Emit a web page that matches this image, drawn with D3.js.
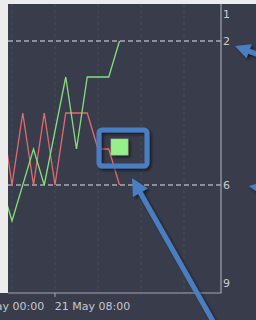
<!DOCTYPE html>
<html>
<head>
<meta charset="utf-8">
<script src="https://cdn.jsdelivr.net/npm/d3@7"></script>
<style>
  body { margin: 0; background: #ececec; }
  svg { display: block; }
  text { font-family: "DejaVu Sans", sans-serif; }
</style>
</head>
<body>
<svg id="chart"></svg>
<script>
// hours after 21 May 00:00 and the rank at that hour
const redHours = [-1, 0, 1, 2, 3, 4, 5, 6, 7, 8, 9, 10];
const redRanks = [4, 6, 4, 6, 4, 6, 4, 4, 4, 5, 5, 6];
const greenHours = [-1, 0, 2, 3, 5, 6, 7, 9, 10];
const greenRanks = [6, 7, 5, 6, 3, 5, 3, 3, 2];

const rankTicks = [1, 2, 6, 9];
const dashedRanks = [2, 6];
const gridHours = [0, 4, 8, 12, 16];
const labelHours = [0, 8];
const tickHours = [4];

const width = 256, height = 320;
const plot = {left: 8, top: 4, right: 221, bottom: 293};

const base = new Date(2021, 4, 21, 0, 0);
const at = h => new Date(base.getTime() + h * 3600e3);
const fmt = d3.timeFormat("%d %b %H:%M");

const x = d3.scaleTime().domain([at(0), at(19)]).range([12, 12 + 19 * 10.75]);
const y = d3.scaleLinear().domain([1, 9]).range([5, 293]);

const svg = d3.select("#chart").attr("width", width).attr("height", height)
    .attr("viewBox", [0, 0, width, height]);

const defs = svg.append("defs");
defs.append("clipPath").attr("id", "plot-clip")
    .append("rect")
    .attr("x", plot.left).attr("y", plot.top)
    .attr("width", plot.right - plot.left).attr("height", plot.bottom - plot.top);
const shadow = defs.append("filter").attr("id", "shadow")
    .attr("x", "-30%").attr("y", "-30%").attr("width", "160%").attr("height", "160%");
shadow.append("feDropShadow").attr("dx", 2).attr("dy", 2)
    .attr("stdDeviation", 1.5).attr("flood-color", "#000").attr("flood-opacity", 0.55);

// dark panel (the light page shows only at the top and left of the plot)
svg.append("rect")
    .attr("x", 0).attr("y", 0).attr("width", width).attr("height", height)
    .attr("fill", "#393d4b");
svg.append("rect").attr("x", 0).attr("y", 0).attr("width", width).attr("height", plot.top)
    .attr("fill", "#ececec");
svg.append("rect").attr("x", 0).attr("y", 0).attr("width", plot.left).attr("height", plot.bottom)
    .attr("fill", "#ececec");

// vertical grid
svg.append("g").selectAll("line").data(gridHours).join("line")
    .attr("x1", d => x(at(d))).attr("x2", d => x(at(d)))
    .attr("y1", plot.top).attr("y2", plot.bottom)
    .attr("stroke", "#464b5b").attr("stroke-dasharray", "3,3");

// dashed rank lines
svg.append("g").selectAll("line").data(dashedRanks).join("line")
    .attr("x1", plot.left).attr("x2", plot.right)
    .attr("y1", d => y(d)).attr("y2", d => y(d))
    .attr("stroke", "#a9abb2").attr("stroke-width", 1.6).attr("stroke-dasharray", "5,3");

// series
const line = d3.line().x(d => x(at(d.h))).y(d => y(d.r));
const series = [
    {color: "#e26b6b", pts: redHours.map((h, i) => ({h: h, r: redRanks[i]}))},
    {color: "#85e07c", pts: greenHours.map((h, i) => ({h: h, r: greenRanks[i]}))}
];
svg.append("g").attr("clip-path", "url(#plot-clip)")
    .selectAll("path").data(series).join("path")
    .attr("d", d => line(d.pts))
    .attr("fill", "none").attr("stroke", d => d.color).attr("stroke-width", 1.3);

// axes
const axisColor = "#a3a5ad";
svg.append("line").attr("x1", plot.right).attr("x2", plot.right)
    .attr("y1", plot.top).attr("y2", plot.bottom).attr("stroke", axisColor).attr("stroke-width", 1.2);
svg.append("line").attr("x1", plot.left).attr("x2", plot.right + 0.6)
    .attr("y1", plot.bottom).attr("y2", plot.bottom).attr("stroke", axisColor).attr("stroke-width", 1.2);
svg.append("g").selectAll("line").data(tickHours).join("line")
    .attr("x1", d => x(at(d))).attr("x2", d => x(at(d)))
    .attr("y1", plot.bottom).attr("y2", plot.bottom + 4).attr("stroke", axisColor);

svg.append("g").selectAll("text").data(rankTicks).join("text")
    .attr("x", 223)
    .attr("y", d => Math.min(Math.max(y(d), 14), 283))
    .attr("dy", "0.36em")
    .attr("font-size", 11).attr("fill", "#c9cbd3")
    .text(d => d);

svg.append("g").selectAll("text").data(labelHours).join("text")
    .attr("x", d => x(at(d)) - 5.5)
    .attr("y", 310)
    .attr("text-anchor", "middle")
    .attr("font-size", 11).attr("fill", "#c4c7d0")
    .text(d => fmt(at(d)));

// annotations
const blue = "#4a7fc2";
const ann = svg.append("g").attr("filter", "url(#shadow)");
ann.append("rect").attr("x", 99).attr("y", 130).attr("width", 48).attr("height", 36)
    .attr("rx", 3).attr("fill", "none").attr("stroke", blue).attr("stroke-width", 5);
ann.append("rect").attr("x", 111).attr("y", 139).attr("width", 17).attr("height", 16)
    .attr("fill", "#95ef8b").attr("stroke", "#b7c48a").attr("stroke-width", 0.6);

function arrow(tip, tail, headLen, headHalf, shaft) {
    const dx = tail[0] - tip[0], dy = tail[1] - tip[1];
    const len = Math.hypot(dx, dy), ux = dx / len, uy = dy / len;
    const bx = tip[0] + ux * headLen, by = tip[1] + uy * headLen;
    ann.append("line").attr("x1", bx - ux).attr("y1", by - uy)
        .attr("x2", tail[0]).attr("y2", tail[1])
        .attr("stroke", blue).attr("stroke-width", shaft);
    ann.append("polygon")
        .attr("points", [tip, [bx - uy * headHalf, by + ux * headHalf], [bx + uy * headHalf, by - ux * headHalf]].join(" "))
        .attr("fill", blue);
}
arrow([132, 178], [218, 330], 17, 8.5, 5);
arrow([235, 46], [262, 56], 15, 7.5, 5);
arrow([249, 186], [272, 190], 14, 7, 5);
</script>
</body>
</html>
